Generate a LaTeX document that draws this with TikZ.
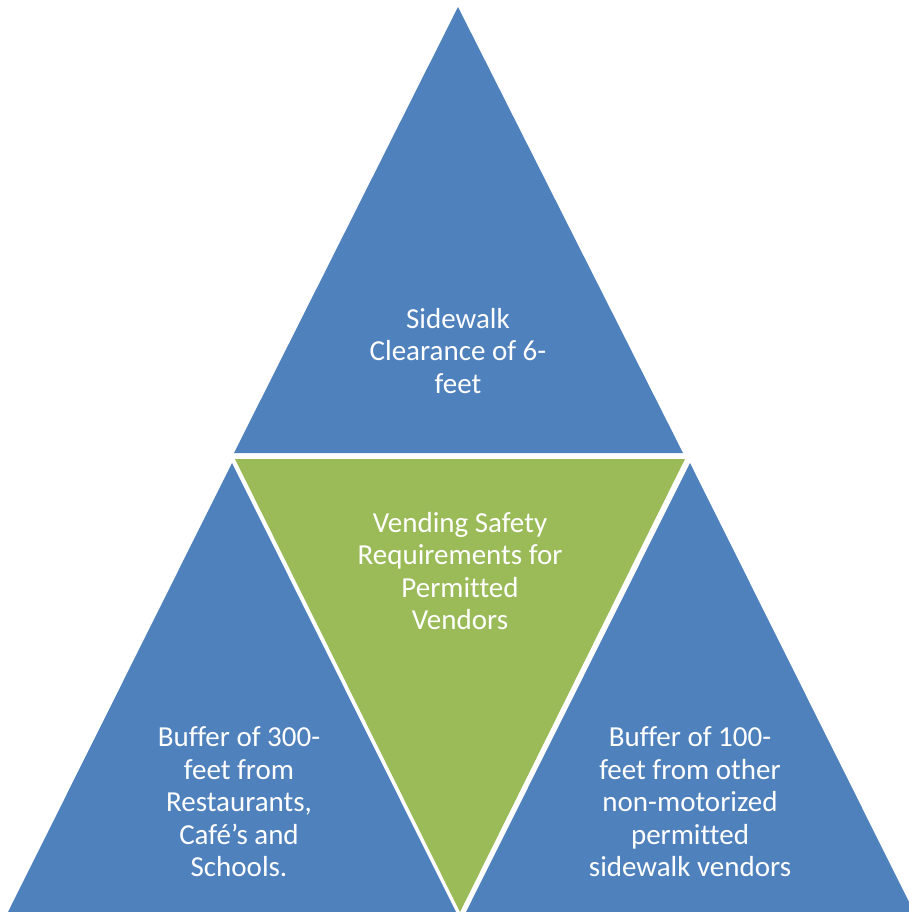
\documentclass[tikz,border=0pt]{standalone}
\usepackage{fontspec}
\setmainfont[Ligatures=CommonOff]{Carlito}
\definecolor{triblue}{HTML}{4F81BD}
\definecolor{trigreen}{HTML}{9BBB59}
\tikzset{
  lbl/.style={text=white, align=center, font=\fontsize{29}{32.5}\selectfont, inner sep=0pt}
}
\begin{document}
\begin{tikzpicture}[x=1pt,y=-1pt]
\useasboundingbox (0,0) rectangle (908,912);
% triangles
\fill[triblue] (458,7) -- (234,453) -- (683,453) -- cycle;
\fill[trigreen] (235,459) -- (685,459) -- (460,912) -- cycle;
\fill[triblue] (232,463) -- (8,912) -- (456,912) -- cycle;
\fill[triblue] (690,463) -- (466,912) -- (914,912) -- cycle;
% labels
\node[lbl] (top) at (458,351) {Sidewalk\\Clearance of 6-\\feet};
\node[lbl] (mid) at (460,571) {Vending Safety\\Requirements for\\Permitted\\Vendors};
\node[lbl] (left) at (239,802) {Buffer of 300-\\feet from\\Restaurants,\\Café’s and\\Schools.};
\node[lbl] (right) at (690,802) {Buffer of 100-\\feet from other\\non-motorized\\permitted\\sidewalk vendors};
\end{tikzpicture}
\end{document}
